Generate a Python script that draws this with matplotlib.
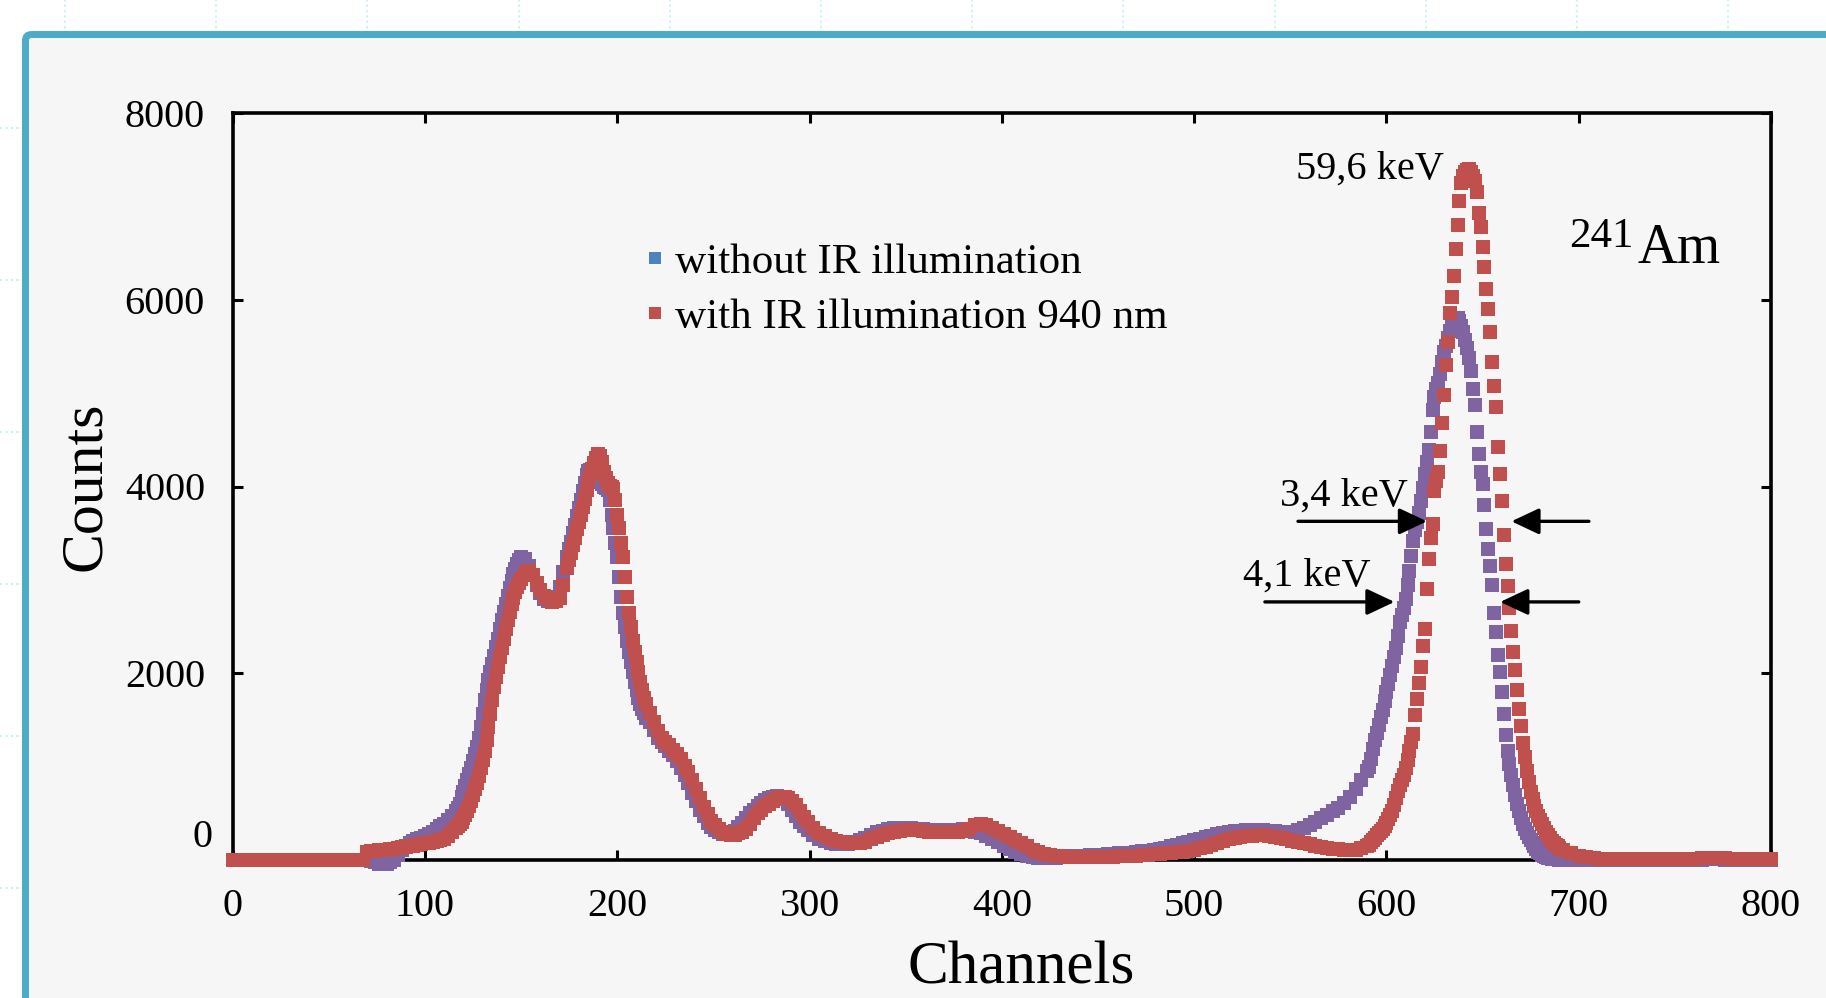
import matplotlib
matplotlib.use('Agg')
import matplotlib.pyplot as plt
import matplotlib.transforms as mtransforms
from matplotlib.lines import Line2D
from matplotlib.patches import FancyBboxPatch

plt.rcParams['font.family'] = ['Liberation Serif', 'DejaVu Serif']

# channel positions of the plotted points (denser where the spectrum is steep)
channels = (list(range(0, 68, 4)) + list(range(68, 117, 2)) + list(range(117, 151))
            + list(range(152, 175, 2)) + list(range(175, 216)) + list(range(217, 300, 2))
            + list(range(302, 591, 3)) + list(range(591, 691)) + list(range(692, 801, 4)))

# with IR illumination 940 nm
counts_with = [
    0, 0, 0, 0, 0, 0, 0, 0, 0, 0, 0, 0, 0, 0, 0, 0, 0,
    0, 90, 95, 100, 103, 107, 112, 118, 123, 128, 135, 142, 148, 155, 162, 170, 178,
    186, 195, 205, 212, 225, 260, 300, 340,
    365, 385, 410, 445, 485, 530, 580, 635, 700, 760, 820, 900, 980, 1070, 1170, 1290,
    1420, 1560, 1710, 1850, 1960, 2070, 2170, 2270, 2370, 2470, 2570, 2660, 2740, 2810,
    2870, 2920, 2970, 3010,
    3070, 3090, 3050, 2970, 2890, 2830, 2790, 2765, 2770, 2810, 2950, 3130,
    3210, 3290, 3370, 3450, 3540, 3620, 3700, 3780, 3870, 3960,
    4050, 4120, 4190, 4250, 4310, 4350, 4330, 4260, 4160, 4090,
    4040, 4010, 3990, 3970, 3860, 3700, 3560, 3400, 3250, 3030,
    2820, 2650, 2490, 2350, 2230, 2120, 2010, 1910, 1820, 1740, 1670,
    1570, 1480, 1380, 1310, 1260, 1230, 1180, 1140, 1080, 1010,
    940, 860, 760, 660, 570, 490, 420, 370, 330, 300,
    280, 268, 270, 285, 300, 330, 390, 450, 500, 540,
    580, 605, 630, 660, 675, 680, 660, 630, 590, 520, 460, 410,
    340, 290, 260, 230, 205, 195, 185, 180, 178, 195,
    225, 250, 270, 290, 300, 310, 318, 320, 318, 312,
    305, 302, 300, 300, 300, 302, 310, 330, 370, 390,
    370, 340, 315, 280, 245, 212, 180, 145, 110, 85,
    68, 54, 45, 38, 33, 30, 29, 29, 30, 32,
    34, 35, 36, 38, 40, 44, 48, 52, 55, 60,
    65, 72, 78, 84, 90, 100, 112, 128, 143, 165,
    185, 205, 220, 235, 245, 255, 262, 267, 268, 262,
    250, 236, 222, 208, 195, 183, 170, 155, 142, 130,
    122, 115, 110, 107, 110, 125, 150,
    165, 190, 215, 240, 265, 290, 310, 335, 365, 400,
    440, 480, 530, 590, 660, 740, 800, 860, 910, 980,
    1070, 1170, 1260, 1350, 1550, 1720, 1900, 2070, 2290, 2470,
    2900, 3220, 3450, 3600, 3950, 4060, 4150, 4380, 4680, 4980,
    5300, 5550, 5860, 6030, 6250, 6540, 6800, 7060, 7250, 7330,
    7370, 7390, 7400, 7370, 7320, 7270, 7150, 6930, 6780, 6560,
    6350, 6120, 5900, 5650, 5330, 5080, 4850, 4420, 4130, 3850,
    3480, 3170, 2930, 2700, 2450, 2230, 2040, 1820, 1620, 1430,
    1250, 1100, 950, 830, 730, 650, 580, 520, 470, 430,
    385, 345, 305, 270, 235, 205, 180, 160, 145, 130,
    110, 70, 45, 30, 20, 15, 12, 10, 10, 12, 12, 10, 10, 12, 14, 12, 12, 15, 18, 22,
    22, 18, 15, 14, 14, 12, 12, 10,
]

# without IR illumination
counts_without = [
    0, 0, 0, 0, 0, 0, 0, 0, 0, 0, 0, 0, 0, 0, 0, 0, 0,
    0, 0, -10, -25, -40, -45, -40, -25, 0, 50, 110, 150, 180, 200, 220, 240, 260,
    280, 300, 330, 360, 390, 430, 470, 520,
    555, 605, 670, 730, 790, 860, 920, 990, 1060, 1130, 1210, 1310, 1420, 1560, 1710, 1820,
    1930, 2010, 2100, 2190, 2280, 2370, 2470, 2570, 2660, 2740, 2830, 2910, 2990, 3060,
    3120, 3170, 3210, 3240,
    3220, 3150, 3050, 2940, 2860, 2800, 2770, 2770, 2820, 2920, 3080, 3250,
    3330, 3410, 3500, 3590, 3680, 3770, 3860, 3950, 4040, 4120,
    4170, 4180, 4160, 4130, 4110, 4090, 4060, 4030, 4000, 3980,
    3960, 3860, 3700, 3560, 3400, 3250, 3030, 2820, 2650, 2490,
    2350, 2230, 2120, 2010, 1910, 1820, 1740, 1670, 1620, 1570, 1520,
    1480, 1390, 1310, 1260, 1220, 1170, 1120, 1060, 990, 910,
    820, 720, 630, 540, 470, 400, 350, 320, 295, 280,
    275, 285, 310, 350, 400, 450, 500, 540, 580, 610,
    640, 665, 680, 690, 680, 650, 600, 540, 470, 410, 360, 320,
    270, 230, 200, 180, 170, 170, 175, 190, 210, 240,
    270, 295, 315, 330, 340, 345, 345, 340, 335, 330,
    325, 320, 318, 318, 320, 325, 330, 320, 305, 285,
    260, 225, 190, 150, 115, 85, 60, 42, 30, 22,
    20, 22, 25, 32, 35, 38, 42, 46, 50, 54,
    58, 62, 66, 70, 75, 80, 86, 92, 100, 108,
    118, 130, 145, 160, 180, 195, 210, 225, 245, 260,
    275, 290, 300, 308, 315, 320, 322, 322, 320, 315,
    310, 305, 300, 305, 320, 345, 375, 410, 445, 480,
    520, 560, 610, 680, 760, 860, 950,
    1000, 1080, 1190, 1280, 1360, 1450, 1530, 1610, 1700, 1800,
    1890, 1980, 2080, 2170, 2270, 2400, 2550, 2620, 2700, 2800,
    2950, 3100, 3260, 3420, 3530, 3620, 3720, 3850, 3980, 4130,
    4260, 4390, 4580, 4820, 4960, 5040, 5110, 5200, 5330, 5440,
    5510, 5590, 5670, 5720, 5760, 5790, 5800, 5770, 5720, 5650,
    5570, 5480, 5380, 5240, 5040, 4870, 4580, 4350, 4150, 4030,
    3800, 3550, 3330, 3150, 2950, 2650, 2440, 2200, 2010, 1800,
    1560, 1340, 1170, 1030, 910, 800, 700, 600, 520, 450,
    390, 330, 290, 250, 210, 180, 150, 120, 90, 70,
    55, 42, 32, 25, 18, 13, 10, 8, 6, 5,
    3, 0, 0, 0, 5, 5, 0, 0, 5, 5, 0, 0, 5, 5, 0, 0, 5, 5, 5, 10,
    10, 5, 5, 5, 0, 0, 5, 5,
]

series_labels = ['without IR illumination', 'with IR illumination 940 nm']
x_ticks = [0, 100, 200, 300, 400, 500, 600, 700, 800]
y_ticks = [0, 2000, 4000, 6000, 8000]

W, H = 1826, 998
fig = plt.figure(figsize=(W / 100, H / 100), dpi=100)
fig.patch.set_facecolor('white')

# faint dotted page grid behind the panel
for k in range(12):
    x = (65 + 151.2 * k) / W
    fig.add_artist(Line2D([x, x], [0, 1], color='#c4f1f7', lw=1.3, ls=(0, (1.2, 1.8)), zorder=-2))
for k in range(6):
    y = 1 - (128 + 152 * k) / H
    fig.add_artist(Line2D([0, 1], [y, y], color='#c4f1f7', lw=1.3, ls=(0, (1.2, 1.8)), zorder=-2))

# teal framed panel
panel = FancyBboxPatch((25.5, -30), 1900, H - 34.5 + 30,
                       boxstyle='round,pad=0,rounding_size=6',
                       transform=mtransforms.IdentityTransform(),
                       fc='#f6f6f6', ec='#4bacc6', lw=5, zorder=-1)
fig.add_artist(panel)

ax = fig.add_axes([232.7 / W, (H - 860) / H, (1771 - 232.7) / W, (860 - 113) / H])
ax.set_facecolor('none')

ax.plot(channels, counts_without, ls='none', marker='s', ms=10, mew=0,
        color='#8064a2', clip_on=False, zorder=3)
ax.plot(channels, counts_with, ls='none', marker='s', ms=10, mew=0,
        color='#c0504d', clip_on=False, zorder=4)

ax.set_xlim(0, 800)
ax.set_ylim(0, 8000)
ax.set_xticks(x_ticks)
ax.set_yticks(y_ticks)
ax.tick_params(direction='in', length=7.5, width=2.2, top=True, right=True,
               labelsize=29, pad=20)
for s in ax.spines.values():
    s.set_linewidth(2.6)

# the "0" label sits a little above its tick in the original
lab0 = ax.yaxis.get_major_ticks()[0].label1
lab0.set_transform(lab0.get_transform()
                   + mtransforms.ScaledTranslation(8 / 100, 27 / 100, fig.dpi_scale_trans))

ax.set_xlabel('Channels', fontsize=44)
ax.xaxis.set_label_coords(0.5125, -0.108)
ax.set_ylabel('Counts', fontsize=43)
ax.yaxis.set_label_coords(-0.078, 0.5)

handles = [Line2D([], [], ls='none', marker='s', ms=9, mew=0, color='#4f81bd'),
           Line2D([], [], ls='none', marker='s', ms=9, mew=0, color='#c0504d')]
ax.legend(handles, series_labels, loc='upper left', bbox_to_anchor=(0.269, 0.826),
          frameon=False, fontsize=31, handlelength=0.4, handletextpad=0.26,
          labelspacing=0.37, borderpad=0, borderaxespad=0)

ax.text(630, 7297, '59,6 keV', ha='right', va='baseline', fontsize=29)
ax.text(611.4, 3799, '3,4 keV', ha='right', va='baseline', fontsize=29)
ax.text(591.7, 2943, '4,1 keV', ha='right', va='baseline', fontsize=29)

arrow = dict(arrowstyle='-|>,head_length=17,head_width=8', mutation_scale=1,
             lw=2.4, color='black', shrinkA=0, shrinkB=0)
ax.annotate('', xy=(621.1, 3627), xytext=(554, 3627), arrowprops=arrow, zorder=5)
ax.annotate('', xy=(665, 3627), xytext=(705.3, 3627), arrowprops=arrow, zorder=5)
ax.annotate('', xy=(604.2, 2764), xytext=(536.8, 2764), arrowprops=arrow, zorder=5)
ax.annotate('', xy=(659.2, 2764), xytext=(700, 2764), arrowprops=arrow, zorder=5)

ax.text(0.9129, 0.7992, 'Am', transform=ax.transAxes, ha='left', va='baseline', fontsize=40)
ax.text(0.911, 0.8206, '241', transform=ax.transAxes, ha='right', va='baseline', fontsize=31)

fig.savefig('out.png', dpi=100)
